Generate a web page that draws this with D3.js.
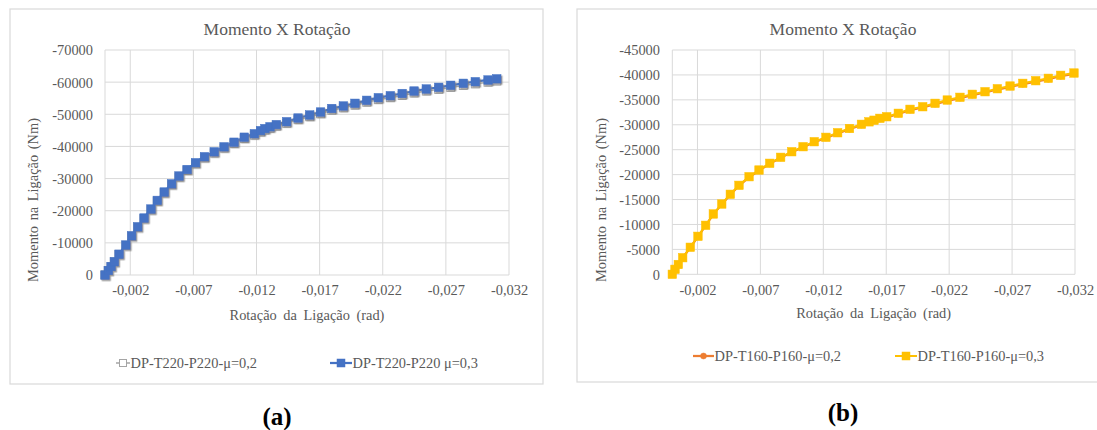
<!DOCTYPE html>
<html>
<head>
<meta charset="utf-8">
<script src="https://cdn.jsdelivr.net/npm/d3@7/dist/d3.min.js"></script>
<style>
  html, body { margin: 0; padding: 0; background: #fff; }
  svg { display: block; }
  svg text { font-family: "Liberation Serif", "Tinos", "Times New Roman", "Nimbus Roman", "DejaVu Serif", "Noto Serif", serif; }
</style>
</head>
<body>
<svg id="chart" width="1097" height="430"></svg>
<script>
// ---------- DATA ----------
const chartTitle = "Momento X Rotação";
const xAxisTitle = "Rotação da Ligação (rad)";
const yAxisTitle = "Momento na Ligação (Nm)";

const xTickValues = [-0.002, -0.007, -0.012, -0.017, -0.022, -0.027, -0.032];
const xTickLabels = ["-0,002", "-0,007", "-0,012", "-0,017", "-0,022", "-0,027", "-0,032"];

const yTickValuesA = [0, -10000, -20000, -30000, -40000, -50000, -60000, -70000];
const yTickLabelsA = ["0", "-10000", "-20000", "-30000", "-40000", "-50000", "-60000", "-70000"];
const yTickValuesB = [0, -5000, -10000, -15000, -20000, -25000, -30000, -35000, -40000, -45000];
const yTickLabelsB = ["0", "-5000", "-10000", "-15000", "-20000", "-25000", "-30000", "-35000", "-40000", "-45000"];

// (a) DP-T220-P220
const seriesNamesA = ["DP-T220-P220-μ=0,2", "DP-T220-P220 μ=0,3"];
const rotA = [0, -0.00026, -0.00048, -0.00074, -0.00111, -0.00165, -0.00211, -0.00259, -0.00309, -0.00364,
  -0.00414, -0.00469, -0.00528, -0.00586, -0.0065, -0.00717, -0.00788, -0.00865, -0.00943, -0.01022,
  -0.01103, -0.01183, -0.01232, -0.01267, -0.01307, -0.01357, -0.01439, -0.01529, -0.01621, -0.01707,
  -0.01796, -0.01888, -0.0198, -0.02073, -0.02165, -0.0226, -0.02354, -0.02448, -0.02545, -0.02643,
  -0.02738, -0.02838, -0.02933, -0.03034, -0.03103];
const momA02 = [0, -1380, -2610, -4090, -6400, -9230, -12060, -14830, -17540, -20310,
  -22960, -25550, -28080, -30480, -32490, -34590, -36440, -37950, -39490, -40900,
  -42440, -43510, -44470, -45080, -45630, -46300, -47190, -48330, -49250, -50170,
  -51240, -52010, -52840, -53760, -54560, -55170, -55850, -56610, -57230, -57750,
  -58360, -58970, -59460, -59980, -60340];
const momA03 = [0, -1400, -2640, -4140, -6470, -9330, -12200, -15000, -17730, -20530,
  -23210, -25820, -28370, -30800, -32820, -34940, -36800, -38330, -39880, -41310,
  -42870, -43960, -44920, -45550, -46110, -46790, -47690, -48840, -49780, -50710,
  -51800, -52580, -53420, -54350, -55160, -55780, -56470, -57240, -57870, -58390,
  -59020, -59640, -60140, -60670, -61040];

// (b) DP-T160-P160
const seriesNamesB = ["DP-T160-P160-μ=0,2", "DP-T160-P160-μ=0,3"];
const rotB = [0, -0.000215, -0.000477, -0.000826, -0.00143, -0.00204, -0.00265, -0.00326, -0.00393, -0.00461,
  -0.0053, -0.0061, -0.00689, -0.00774, -0.00861, -0.00949, -0.01039, -0.01128, -0.01221, -0.01314,
  -0.01408, -0.01503, -0.01563, -0.01603, -0.0165, -0.01704, -0.01796, -0.01889, -0.0199, -0.02088,
  -0.02185, -0.02286, -0.02384, -0.02485, -0.02583, -0.02684, -0.02785, -0.02888, -0.02988, -0.03086,
  -0.03192];
const momB02 = [0, -990, -1950, -3300, -5380, -7570, -9770, -12030, -14030, -15960,
  -17760, -19480, -20820, -22160, -23360, -24480, -25480, -26480, -27360, -28280,
  -29120, -29960, -30460, -30780, -31160, -31480, -32160, -32950, -33470, -34150,
  -34810, -35350, -35950, -36470, -37070, -37610, -38150, -38670, -39150, -39750,
  -40210];
const momB03 = [0, -1000, -1970, -3330, -5420, -7620, -9830, -12100, -14100, -16050,
  -17850, -19580, -20920, -22270, -23470, -24590, -25600, -26600, -27480, -28400,
  -29250, -30090, -30590, -30910, -31290, -31610, -32300, -33100, -33620, -34300,
  -34960, -35510, -36110, -36630, -37230, -37770, -38310, -38840, -39320, -39920,
  -40380];

const panelLabels = ["(a)", "(b)"];

// ---------- DRAW ----------
const svg = d3.select("#chart");
const TXT = "#595959", GRID = "#D9D9D9";

const defs = svg.append("defs");
defs.append("filter").attr("id", "shadow").attr("x", "-50%").attr("y", "-50%").attr("width", "200%").attr("height", "200%")
  .append("feDropShadow").attr("dx", 1.3).attr("dy", 1.5).attr("stdDeviation", 0.7)
  .attr("flood-color", "#7f7f7f").attr("flood-opacity", 0.75);

function panel(cfg) {
  const g = svg.append("g");
  g.append("rect").attr("x", cfg.box[0]).attr("y", cfg.box[1]).attr("width", cfg.box[2]).attr("height", cfg.box[3])
    .attr("fill", "#fff").attr("stroke", GRID).attr("stroke-width", 1.2);

  const x = d3.scaleLinear().domain([0, -0.032]).range([cfg.plot.l, cfg.plot.r]);
  const y = d3.scaleLinear().domain([0, cfg.yMax]).range([cfg.plot.b, cfg.plot.t]);

  // gridlines
  g.append("g").selectAll("line.h").data(cfg.yTicks).join("line")
    .attr("x1", cfg.plot.l).attr("x2", cfg.plot.r).attr("y1", d => y(d)).attr("y2", d => y(d))
    .attr("stroke", GRID).attr("stroke-width", 1);
  g.append("g").selectAll("line.v").data([0].concat(xTickValues)).join("line")
    .attr("x1", d => x(d)).attr("x2", d => x(d)).attr("y1", cfg.plot.t).attr("y2", cfg.plot.b)
    .attr("stroke", GRID).attr("stroke-width", 1);

  // axes (labels only)
  const xAxis = d3.axisBottom(x).tickValues(xTickValues)
    .tickFormat((d, i) => xTickLabels[i]).tickSize(0).tickPadding(0);
  const gx = g.append("g").attr("transform", `translate(0,${cfg.plot.b})`).call(xAxis)
    .attr("font-family", null).attr("font-size", null);
  gx.select(".domain").remove();
  gx.selectAll("text").attr("fill", TXT).attr("font-size", "14.4px")
    .attr("dy", null).attr("y", cfg.xTickY - cfg.plot.b);

  const yAxis = d3.axisLeft(y).tickValues(cfg.yTicks)
    .tickFormat((d, i) => cfg.yLabels[i]).tickSize(0).tickPadding(0);
  const gy = g.append("g").attr("transform", `translate(${cfg.yTickX},0)`).call(yAxis)
    .attr("font-family", null).attr("font-size", null);
  gy.select(".domain").remove();
  gy.selectAll("text").attr("fill", TXT).attr("font-size", "14.4px")
    .attr("x", 0).attr("dy", "0.34em");

  // titles
  g.append("text").attr("x", cfg.titleX).attr("y", 34.5).attr("text-anchor", "middle")
    .attr("fill", TXT).attr("font-size", "17.5px").text(chartTitle);
  g.append("text").attr("x", (cfg.plot.l + cfg.plot.r) / 2).attr("y", cfg.xTitleY).attr("text-anchor", "middle")
    .attr("fill", TXT).attr("font-size", "14.4px").attr("word-spacing", "3px").text(xAxisTitle);
  g.append("text").attr("transform", `translate(${cfg.yTitleX},200) rotate(-90)`).attr("text-anchor", "middle")
    .attr("dy", "0.35em").attr("fill", TXT).attr("font-size", "14.4px").attr("word-spacing", "2px").text(yAxisTitle);

  // series
  const line = d3.line().x(d => x(d[0])).y(d => y(d[1]));
  cfg.series.forEach(s => {
    const pts = s.rot.map((r, i) => [r, s.mom[i]]);
    g.append("path").datum(pts).attr("d", line).attr("fill", "none")
      .attr("stroke", s.color).attr("stroke-width", s.lw);
    const mg = g.append("g");
    if (s.shadow) mg.attr("filter", "url(#shadow)");
    if (s.marker === "square") {
      mg.selectAll("rect").data(pts).join("rect")
        .attr("x", d => x(d[0]) - s.size / 2).attr("y", d => y(d[1]) - s.size / 2)
        .attr("width", s.size).attr("height", s.size)
        .attr("fill", s.fill).attr("stroke", s.stroke).attr("stroke-width", s.sw);
    } else {
      mg.selectAll("circle").data(pts).join("circle")
        .attr("cx", d => x(d[0])).attr("cy", d => y(d[1])).attr("r", s.size / 2)
        .attr("fill", s.fill).attr("stroke", s.stroke).attr("stroke-width", s.sw);
    }
  });

  // legend
  cfg.legend.forEach((L, i) => {
    const s = cfg.series[i];
    const lg = g.append("g");
    lg.append("line").attr("x1", L.x1).attr("x2", L.x2).attr("y1", cfg.legendY - 5).attr("y2", cfg.legendY - 5)
      .attr("stroke", s.color).attr("stroke-width", s.lw);
    const cx = (L.x1 + L.x2) / 2;
    const ls = L.ms;
    if (s.marker === "square") {
      lg.append("rect").attr("x", cx - ls / 2).attr("y", cfg.legendY - 5 - ls / 2).attr("width", ls).attr("height", ls)
        .attr("fill", s.fill).attr("stroke", s.stroke).attr("stroke-width", s.sw);
    } else {
      lg.append("circle").attr("cx", cx).attr("cy", cfg.legendY - 5).attr("r", ls / 2)
        .attr("fill", s.fill).attr("stroke", s.stroke).attr("stroke-width", s.sw);
    }
    lg.append("text").attr("x", L.x2 + 0.5).attr("y", cfg.legendY).attr("fill", TXT)
      .attr("font-size", "14.4px").text(L.name);
  });

  // panel label
  svg.append("text").attr("x", cfg.panelX).attr("y", cfg.panelY).attr("text-anchor", "middle")
    .attr("font-weight", "bold").attr("font-size", "25px").attr("fill", "#000").text(cfg.panelLabel);
}

panel({
  box: [10, 9, 533, 375],
  plot: { l: 105, r: 509, t: 50, b: 275 },
  yMax: -70000, yTicks: yTickValuesA, yLabels: yTickLabelsA,
  xTickY: 295, yTickX: 93, titleX: 277, xTitleY: 319.5, yTitleX: 33,
  legendY: 368,
  series: [
    { rot: rotA, mom: momA02, color: "#A5A5A5", lw: 1.5, marker: "square", size: 8, fill: "#fff", stroke: "#A5A5A5", sw: 1 },
    { rot: rotA, mom: momA03, color: "#4472C4", lw: 2.25, marker: "square", size: 8.5, fill: "#4472C4", stroke: "#4472C4", sw: 0.5, shadow: true }
  ],
  legend: [
    { x1: 116, x2: 130, ms: 7, name: seriesNamesA[0] },
    { x1: 330, x2: 352, ms: 8, name: seriesNamesA[1] }
  ],
  panelLabel: panelLabels[0], panelX: 277, panelY: 425
});

panel({
  box: [577, 9, 530, 373],
  plot: { l: 672.3, r: 1075, t: 50, b: 274.3 },
  yMax: -45000, yTicks: yTickValuesB, yLabels: yTickLabelsB,
  xTickY: 295, yTickX: 660, titleX: 843, xTitleY: 318, yTitleX: 601,
  legendY: 361,
  series: [
    { rot: rotB, mom: momB02, color: "#ED7D31", lw: 2.25, marker: "circle", size: 6, fill: "#ED7D31", stroke: "#ED7D31", sw: 0.5 },
    { rot: rotB, mom: momB03, color: "#FFC000", lw: 2, marker: "square", size: 8.5, fill: "#FFC000", stroke: "#FFC000", sw: 0.5 }
  ],
  legend: [
    { x1: 693, x2: 714, ms: 6, name: seriesNamesB[0] },
    { x1: 895, x2: 917, ms: 8, name: seriesNamesB[1] }
  ],
  panelLabel: panelLabels[1], panelX: 843, panelY: 421
});
</script>
</body>
</html>
